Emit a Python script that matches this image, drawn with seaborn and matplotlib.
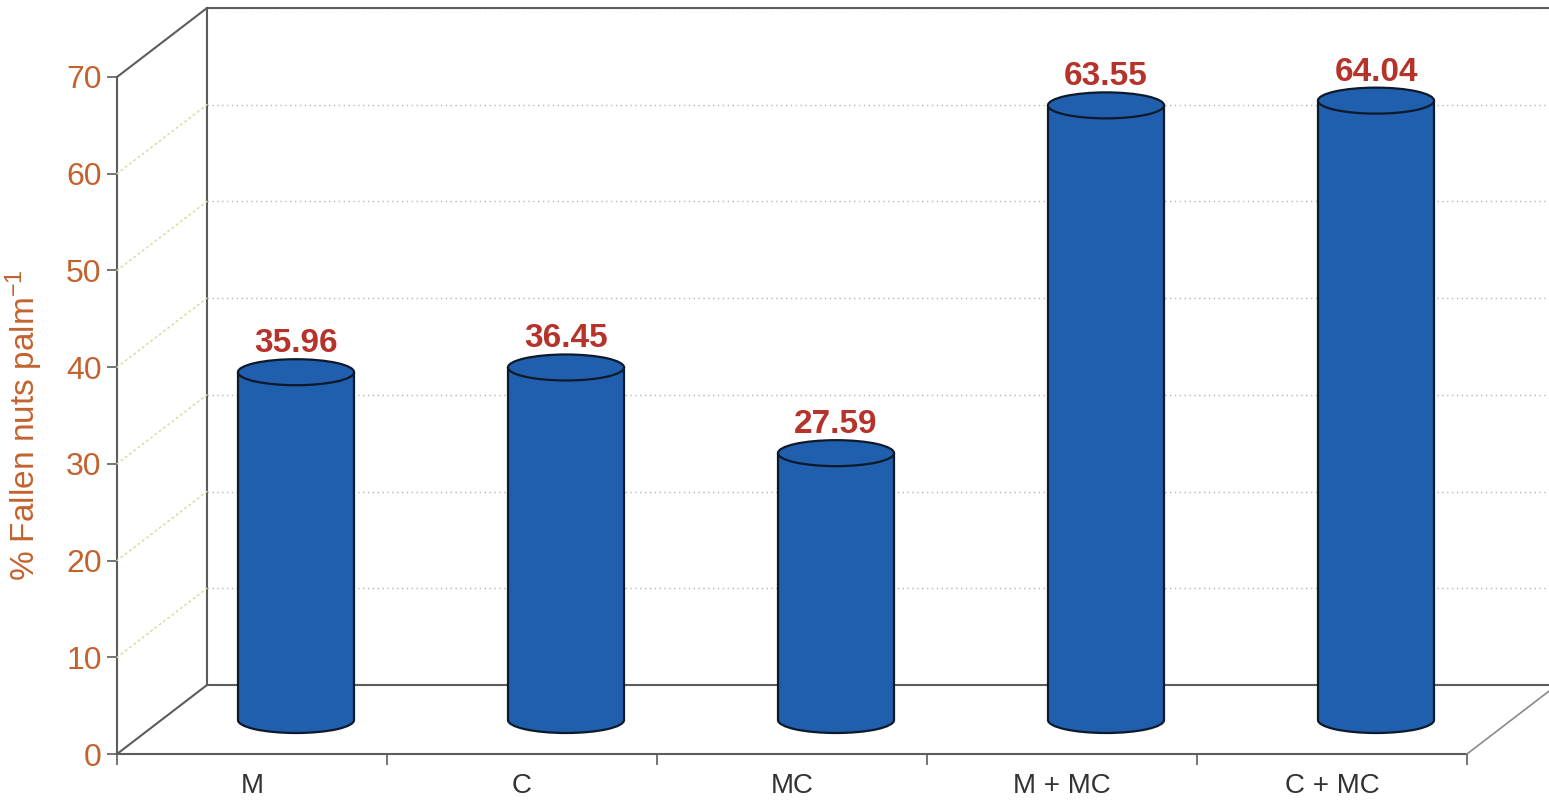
import matplotlib
matplotlib.use("Agg")
import matplotlib.pyplot as plt
import seaborn as sns
from matplotlib.patches import Ellipse, Arc, ConnectionPatch
from matplotlib.transforms import ScaledTranslation

# ---- data ----
categories = ["M", "C", "MC", "M + MC", "C + MC"]
fallen_pct = [35.96, 36.45, 27.59, 63.55, 64.04]
y_ticks = [0, 10, 20, 30, 40, 50, 60, 70]

# ---- style ----
sns.set_theme(style="white")
plt.rcParams["font.family"] = ["Liberation Sans", "DejaVu Sans"]
plt.rcParams["mathtext.default"] = "regular"

ORANGE = "#c3622e"
RED = "#b5332a"
BLUE = "#1f5fae"
EDGE = "#0e1a2a"
FRAME = "#5c5c5c"

W, H, DPI = 1549, 807, 100
fig = plt.figure(figsize=(W / DPI, H / DPI), dpi=DPI)
fig.patch.set_facecolor("white")

# front plane (pixels): origin and size; depth offsets shift planes up/right
X0, Y0 = 117, 754
PW, PH = 1350, 677
BACK = (90, 69)
MID = (44, 34)


def plane(dx, dy):
    return [(X0 + dx) / W, (H - Y0 + dy) / H, PW / W, PH / H]


XLIM = (-0.5, len(categories) - 0.5)
YLIM = (0, 70)

# ---- back wall and floor back edge ----
ax_back = fig.add_axes(plane(*BACK))
ax_back.set_xlim(*XLIM)
ax_back.set_ylim(*YLIM)
ax_back.set_facecolor("none")
for side in ("left", "top", "bottom"):
    ax_back.spines[side].set_visible(True)
    ax_back.spines[side].set_color(FRAME)
    ax_back.spines[side].set_linewidth(1.5)
ax_back.spines["right"].set_visible(False)
ax_back.set_xticks([])
ax_back.set_yticks(y_ticks)
ax_back.tick_params(left=False, labelleft=False)
ax_back.yaxis.grid(True, linestyle=(0, (1, 2.5)), color="#b5b5b5", linewidth=1)

# ---- front axes (ticks, labels, front edges) ----
ax = fig.add_axes(plane(0, 0))
ax.set_xlim(*XLIM)
ax.set_ylim(*YLIM)
ax.set_facecolor("none")
for side in ("top", "right"):
    ax.spines[side].set_visible(False)
for side in ("left", "bottom"):
    ax.spines[side].set_color(FRAME)
    ax.spines[side].set_linewidth(1.5)
ax.set_yticks(y_ticks)
ax.set_yticklabels([str(t) for t in y_ticks], color=ORANGE, fontsize=23)
ax.tick_params(axis="y", direction="out", length=7, width=1.2, color=FRAME, pad=4, left=True)
bounds = [i - 0.5 for i in range(len(categories) + 1)]
ax.set_xticks(bounds)
ax.set_xticklabels([])
ax.set_xticks(range(len(categories)), minor=True)
ax.set_xticklabels(categories, minor=True, fontsize=20, color="#333333")
ax.tick_params(axis="x", which="major", direction="out", length=8, width=1.2, color=FRAME, bottom=True)
ax.tick_params(axis="x", which="minor", length=0, pad=14)

# ---- side wall lines linking front and back planes ----
for v in y_ticks:
    if v in (YLIM[0], YLIM[1]):
        style = dict(color=FRAME, linewidth=1.5)
    else:
        style = dict(color="#dcd79a", linewidth=1.1, linestyle=(0, (1, 2.5)))
    fig.add_artist(ConnectionPatch((XLIM[0], v), (XLIM[0], v), coordsA=ax.transData,
                                   coordsB=ax_back.transData, **style))
fig.add_artist(ConnectionPatch((XLIM[1], 0), (XLIM[1], 0), coordsA=ax.transData,
                               coordsB=ax_back.transData, color="#8a8a8a", linewidth=1.2))

# ---- cylinders on the middle plane ----
ax_bar = fig.add_axes(plane(*MID))
sns.barplot(x=categories, y=fallen_pct, ax=ax_bar, color=BLUE, saturation=1,
            width=0.43, linewidth=0, errorbar=None)
ax_bar.set_xlim(*XLIM)
ax_bar.set_ylim(*YLIM)
ax_bar.axis("off")
ax_bar.set_facecolor("none")

bars = list(ax_bar.patches)
ELL_H = 26  # pixel height of cylinder caps
for patch, val in zip(bars, fallen_pct):
    bx, bw, bh = patch.get_x(), patch.get_width(), patch.get_height()
    xc = bx + bw / 2
    patch.set_zorder(2)
    patch.set_edgecolor("none")
    patch.set_linewidth(0)
    left_px = ax_bar.transData.transform((bx, 0))[0]
    right_px = ax_bar.transData.transform((bx + bw, 0))[0]
    w_in = (right_px - left_px) / DPI
    h_in = ELL_H / DPI

    # base: filled cap with only its lower rim outlined
    tr0 = fig.dpi_scale_trans + ScaledTranslation(xc, 0, ax_bar.transData)
    ax_bar.add_patch(Ellipse((0, 0), w_in, h_in, transform=tr0,
                             facecolor=BLUE, edgecolor="none", zorder=1, clip_on=False))
    ax_bar.add_patch(Arc((0, 0), w_in, h_in, theta1=180, theta2=360,
                         transform=tr0, color=EDGE, linewidth=1.6, zorder=3, clip_on=False))

    # top cap
    tr1 = fig.dpi_scale_trans + ScaledTranslation(xc, bh, ax_bar.transData)
    ax_bar.add_patch(Ellipse((0, 0), w_in, h_in, transform=tr1,
                             facecolor=BLUE, edgecolor=EDGE, linewidth=1.6, zorder=4,
                             clip_on=False))

    ax_bar.plot([bx, bx], [0, bh], color=EDGE, linewidth=1.6, zorder=3, solid_capstyle="butt")
    ax_bar.plot([bx + bw, bx + bw], [0, bh], color=EDGE, linewidth=1.6, zorder=3,
                solid_capstyle="butt")
    ax_bar.annotate(f"{val:.2f}", xy=(xc, bh), xytext=(0, 20), textcoords="offset pixels",
                    ha="center", va="baseline", fontsize=24, fontweight="bold", color=RED,
                    zorder=5)

# ---- y axis title ----
fig.text(24 / W, 1 - 425 / H, "% Fallen nuts palm$^{-1}$", rotation=90, ha="center",
         va="center", fontsize=24, color=ORANGE)

fig.savefig("out.png", dpi=DPI, facecolor="white")
